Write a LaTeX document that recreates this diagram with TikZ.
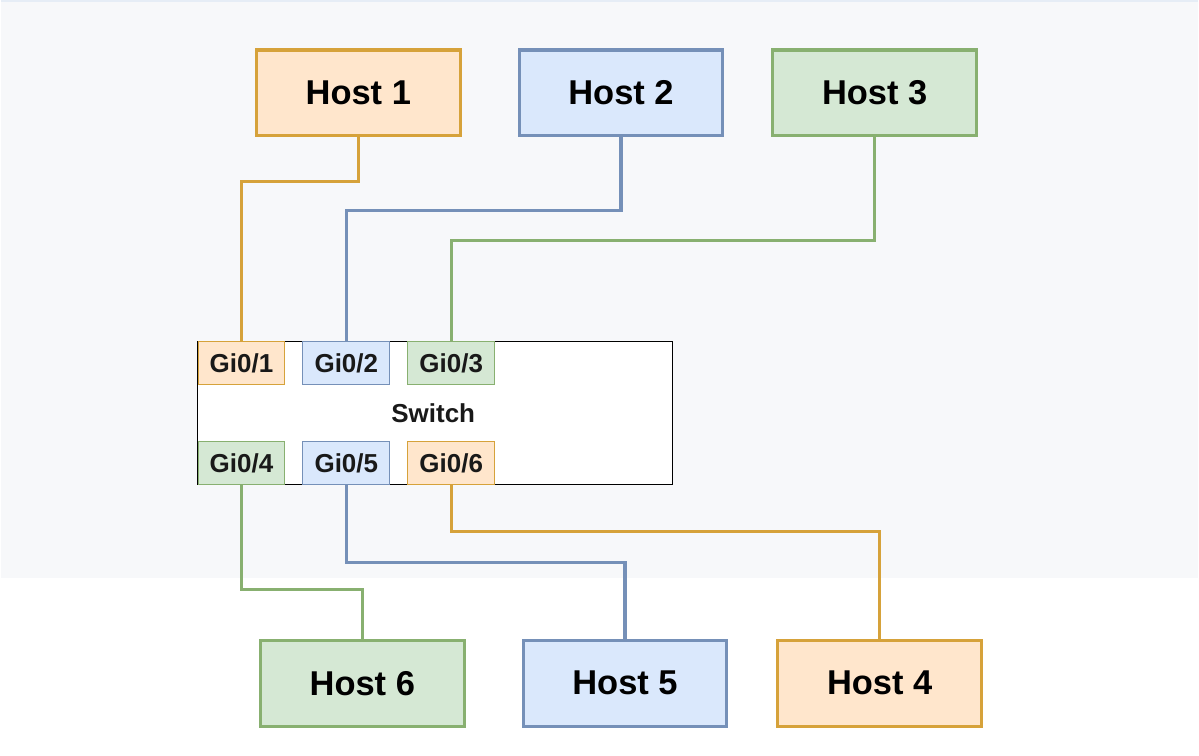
\documentclass[tikz,border=0pt]{standalone}
\usepackage{fontspec}
\setmainfont{Liberation Sans}
\definecolor{bgg}{HTML}{F7F8FA}
\definecolor{topl}{HTML}{E6EDF6}
\definecolor{ofill}{HTML}{FFE6CC}\definecolor{odraw}{HTML}{D6A23A}
\definecolor{bfill}{HTML}{DAE8FC}\definecolor{bdraw}{HTML}{7590B8}
\definecolor{gfill}{HTML}{D5E8D4}\definecolor{gdraw}{HTML}{88B070}
\tikzset{
  host/.style={draw, line width=3.2pt, minimum width=204pt, minimum height=86pt, inner sep=0pt,
    font=\fontsize{34.5}{38}\selectfont\bfseries, text=black},
  port/.style={draw, line width=0.8pt, minimum width=87pt, minimum height=43pt, inner sep=0pt,
    font=\fontsize{26}{30}\selectfont\bfseries, text=black!90},
  wire/.style={line width=3.2pt},
}
\begin{document}
\begin{tikzpicture}[x=1pt,y=-1pt]
\fill[bgg] (0,0) rectangle (1199,579);
\fill[white] (0,579) rectangle (1199,756);
\draw[topl, line width=1.5pt] (0,0.75) -- (1199,0.75);
\useasboundingbox (0,0) rectangle (1199,756);
% hosts
\node[host, fill=ofill, draw=odraw] (h1) at (358,93) {Host 1};
\node[host, fill=bfill, draw=bdraw] (h2) at (621,93) {Host 2};
\node[host, fill=gfill, draw=gdraw] (h3) at (875,93) {Host 3};
\node[host, fill=gfill, draw=gdraw] (h6) at (362,684) {Host 6};
\node[host, fill=bfill, draw=bdraw] (h5) at (625,684) {Host 5};
\node[host, fill=ofill, draw=odraw] (h4) at (880,684) {Host 4};
% switch
\node[draw=black, fill=white, line width=0.8pt, minimum width=475pt, minimum height=143pt, inner sep=0pt] (sw) at (434.5,413.5) {};
\node[font=\fontsize{26}{30}\selectfont\bfseries, text=black!90, inner sep=0pt] (swl) at (433,413.5) {Switch};
% ports
\node[port, fill=ofill, draw=odraw] (p1) at (241,363.5) {Gi0/1};
\node[port, fill=bfill, draw=bdraw] (p2) at (346,363.5) {Gi0/2};
\node[port, fill=gfill, draw=gdraw] (p3) at (451,363.5) {Gi0/3};
\node[port, fill=gfill, draw=gdraw] (p4) at (241,463.5) {Gi0/4};
\node[port, fill=bfill, draw=bdraw] (p5) at (346,463.5) {Gi0/5};
\node[port, fill=ofill, draw=odraw] (p6) at (451,463.5) {Gi0/6};
% wires
\draw[wire, odraw] (h1.south) -- ++(0,44) -| (p1.north);
\draw[wire, bdraw] (h2.south) -- ++(0,73) -| (p2.north);
\draw[wire, gdraw] (h3.south) -- ++(0,103) -| (p3.north);
\draw[wire, gdraw] (p4.south) -- ++(0,105) -| (h6.north);
\draw[wire, bdraw] (p5.south) -- ++(0,78) -| (h5.north);
\draw[wire, odraw] (p6.south) -- ++(0,47) -| (h4.north);
\end{tikzpicture}
\end{document}
